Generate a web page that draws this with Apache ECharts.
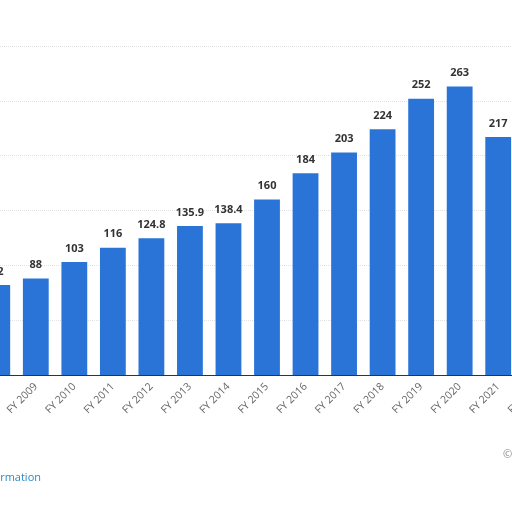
<!DOCTYPE html>
<html><head><meta charset="utf-8">
<script src="https://cdn.jsdelivr.net/npm/echarts@6/dist/echarts.min.js"></script>
<style>html,body{margin:0;padding:0;background:#fff;overflow:hidden;width:512px;height:512px;position:relative}#c{position:absolute;left:-22px;top:0;width:600px;height:512px}</style>
</head><body><div id="c"></div>
<script>
const categories = ['FY 2008','FY 2009','FY 2010','FY 2011','FY 2012','FY 2013','FY 2014','FY 2015','FY 2016','FY 2017','FY 2018','FY 2019','FY 2020','FY 2021','FY 2022'];
const values = [82, 88, 103, 116, 124.8, 135.9, 138.4, 160, 184, 203, 224, 252, 263, 217, null];
const yTicks = [0, 50, 100, 150, 200, 250, 300];

const chart = echarts.init(document.getElementById('c'));
chart.setOption({
  backgroundColor: '#ffffff',
  animation: false,
  grid: { left: 0, width: 578, top: 46, bottom: 137, containLabel: false, outerBoundsMode: 'none' },
  xAxis: {
    type: 'category', data: categories,
    axisLine: { show: true, lineStyle: { color: '#333', width: 1 } },
    axisTick: { show: false },
    axisLabel: { rotate: 45, color: '#666', fontSize: 10.5, fontFamily: 'Open Sans', margin: 10, interval: 0 }
  },
  yAxis: {
    type: 'value', min: yTicks[0], max: yTicks[yTicks.length-1], interval: 50,
    axisLabel: { show: false }, axisLine: { show: false }, axisTick: { show: false },
    splitLine: { lineStyle: { color: '#e2e2e2', type: 'dotted' } }
  },
  series: [{
    type: 'bar', data: values, barWidth: '67%',
    itemStyle: { color: '#2b74d7' },
    label: { show: true, position: 'top', distance: 8, color: '#333', fontWeight: 'bold', fontSize: 11, fontFamily: 'Open Sans' }
  }],
  graphic: [
    { type: 'text', x: 63, y: 472, style: { text: 'Additional Information', textAlign: 'right', fill: '#2a8ac6', font: '11px "Open Sans"' } },
    { type: 'text', x: 525, y: 449, style: { text: '© Statista 2022', textAlign: 'left', fill: '#888', font: '11px "Open Sans"' } }
  ]
});
</script></body></html>
